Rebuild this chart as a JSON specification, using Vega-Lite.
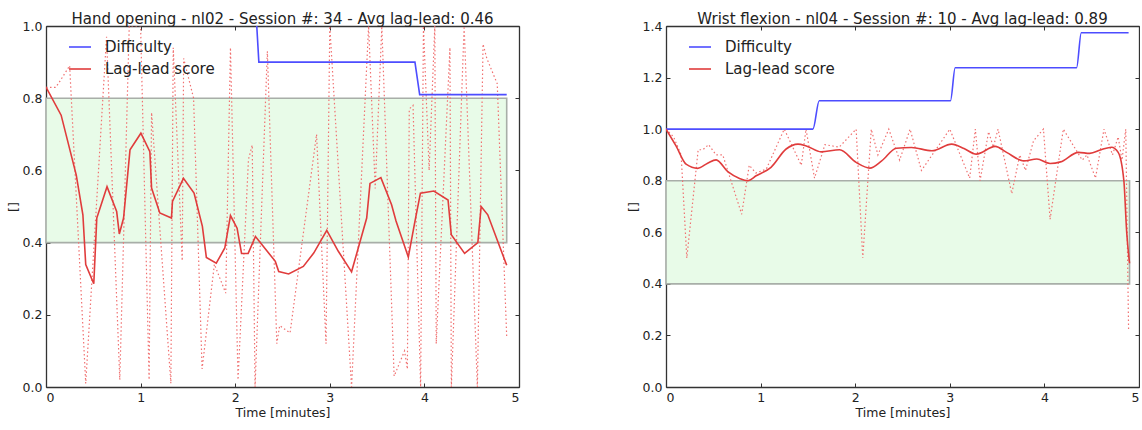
{
"$schema": "https://vega.github.io/schema/vega-lite/v6.json",
"background": "white",
"padding": {"left": 7, "right": 0, "top": 12, "bottom": 0},
"spacing": 107,
"config": {
  "font": "DejaVu Sans",
  "view": {"stroke": null},
  "title": {"fontSize": 15, "fontWeight": "normal", "color": "#222", "offset": -7},
  "axis": {"labelFontSize": 12.5, "titleFontSize": 12.5, "titleFontWeight": "normal", "labelColor": "#222", "titleColor": "#222", "grid": false, "domainColor": "#333", "domainWidth": 1.3, "tickColor": "#333", "tickSize": -4, "labelPadding": 8, "titlePadding": 4},
  "legend": {"title": null, "orient": "none", "legendX": 22, "legendY": 9, "symbolType": "stroke", "symbolStrokeWidth": 1.6, "symbolSize": 484, "labelFontSize": 15, "labelOffset": 13, "rowPadding": 2, "labelColor": "#222"}
},
"datasets": {
  "bandL": [{"t0": 0, "t1": 4.87, "lo": 0.4, "hi": 0.8}],
  "bandR": [{"t0": 0, "t1": 4.90, "lo": 0.4, "hi": 0.8}],
  "rawL": [
    {"t":0.00,"v":0.83},{"t":0.10,"v":0.83},{"t":0.13,"v":0.84},{"t":0.25,"v":0.89},{"t":0.42,"v":0.01},{"t":0.64,"v":0.97},{"t":0.78,"v":0.02},{"t":0.88,"v":1.0},{"t":1.0,"v":1.0},{"t":1.09,"v":0.02},{"t":1.116,"v":0.76},{"t":1.32,"v":0.01},{"t":1.345,"v":0.94},{"t":1.44,"v":0.35},{"t":1.455,"v":0.91},{"t":1.56,"v":0.80},{"t":1.65,"v":0.05},{"t":1.78,"v":0.34},{"t":1.90,"v":0.26},{"t":1.95,"v":0.94},{"t":2.03,"v":0.02},{"t":2.14,"v":0.63},{"t":2.18,"v":0.67},{"t":2.21,"v":0.0},{"t":2.34,"v":0.93},{"t":2.44,"v":0.12},{"t":2.47,"v":0.17},{"t":2.58,"v":0.15},{"t":2.86,"v":0.70},{"t":2.96,"v":0.12},{"t":3.00,"v":1.0},{"t":3.23,"v":0.0},{"t":3.41,"v":1.0},{"t":3.48,"v":0.55},{"t":3.55,"v":1.0},{"t":3.68,"v":0.03},{"t":3.79,"v":0.10},{"t":3.82,"v":0.05},{"t":3.84,"v":0.77},{"t":3.88,"v":0.78},{"t":3.96,"v":0.0},{"t":3.99,"v":1.0},{"t":4.05,"v":0.6},{"t":4.11,"v":1.0},{"t":4.125,"v":0.12},{"t":4.27,"v":0.94},{"t":4.285,"v":0.0},{"t":4.42,"v":1.0},{"t":4.56,"v":0.0},{"t":4.62,"v":0.95},{"t":4.66,"v":0.91},{"t":4.77,"v":0.84},{"t":4.87,"v":0.14}
  ],
  "linesL": [
    {"s":"Difficulty","t":0,"v":1.05},{"s":"Difficulty","t":2.217,"v":1.05},{"s":"Difficulty","t":2.25,"v":0.90},{"s":"Difficulty","t":3.90,"v":0.90},{"s":"Difficulty","t":3.95,"v":0.81},{"s":"Difficulty","t":4.87,"v":0.81},
    {"s":"Lag-lead score","t":0.0,"v":0.831},{"s":"Lag-lead score","t":0.16,"v":0.753},{"s":"Lag-lead score","t":0.32,"v":0.587},{"s":"Lag-lead score","t":0.39,"v":0.477},{"s":"Lag-lead score","t":0.42,"v":0.339},{"s":"Lag-lead score","t":0.505,"v":0.286},{"s":"Lag-lead score","t":0.537,"v":0.468},{"s":"Lag-lead score","t":0.645,"v":0.555},{"s":"Lag-lead score","t":0.747,"v":0.486},{"s":"Lag-lead score","t":0.775,"v":0.424},{"s":"Lag-lead score","t":0.82,"v":0.468},{"s":"Lag-lead score","t":0.888,"v":0.657},{"s":"Lag-lead score","t":1.003,"v":0.703},{"s":"Lag-lead score","t":1.098,"v":0.652},{"s":"Lag-lead score","t":1.116,"v":0.551},{"s":"Lag-lead score","t":1.203,"v":0.482},{"s":"Lag-lead score","t":1.326,"v":0.468},{"s":"Lag-lead score","t":1.337,"v":0.514},{"s":"Lag-lead score","t":1.453,"v":0.578},{"s":"Lag-lead score","t":1.565,"v":0.537},{"s":"Lag-lead score","t":1.653,"v":0.445},{"s":"Lag-lead score","t":1.695,"v":0.359},{"s":"Lag-lead score","t":1.80,"v":0.343},{"s":"Lag-lead score","t":1.89,"v":0.385},{"s":"Lag-lead score","t":1.95,"v":0.475},{"s":"Lag-lead score","t":2.02,"v":0.44},{"s":"Lag-lead score","t":2.067,"v":0.37},{"s":"Lag-lead score","t":2.137,"v":0.37},{"s":"Lag-lead score","t":2.214,"v":0.417},{"s":"Lag-lead score","t":2.424,"v":0.348},{"s":"Lag-lead score","t":2.46,"v":0.32},{"s":"Lag-lead score","t":2.565,"v":0.313},{"s":"Lag-lead score","t":2.72,"v":0.334},{"s":"Lag-lead score","t":2.83,"v":0.371},{"s":"Lag-lead score","t":2.968,"v":0.434},{"s":"Lag-lead score","t":3.09,"v":0.376},{"s":"Lag-lead score","t":3.23,"v":0.319},{"s":"Lag-lead score","t":3.39,"v":0.468},{"s":"Lag-lead score","t":3.425,"v":0.564},{"s":"Lag-lead score","t":3.54,"v":0.58},{"s":"Lag-lead score","t":3.653,"v":0.505},{"s":"Lag-lead score","t":3.70,"v":0.46},{"s":"Lag-lead score","t":3.83,"v":0.36},{"s":"Lag-lead score","t":3.90,"v":0.459},{"s":"Lag-lead score","t":3.958,"v":0.537},{"s":"Lag-lead score","t":4.10,"v":0.543},{"s":"Lag-lead score","t":4.25,"v":0.518},{"s":"Lag-lead score","t":4.284,"v":0.422},{"s":"Lag-lead score","t":4.425,"v":0.37},{"s":"Lag-lead score","t":4.565,"v":0.40},{"s":"Lag-lead score","t":4.60,"v":0.50},{"s":"Lag-lead score","t":4.67,"v":0.477},{"s":"Lag-lead score","t":4.87,"v":0.337}
  ],
  "rawR": [
    {"t":0.00,"v":1.0},{"t":0.08,"v":0.97},{"t":0.16,"v":0.90},{"t":0.22,"v":0.50},{"t":0.34,"v":0.92},{"t":0.39,"v":0.92},{"t":0.45,"v":0.94},{"t":0.53,"v":0.90},{"t":0.60,"v":0.90},{"t":0.80,"v":0.67},{"t":0.88,"v":0.86},{"t":0.95,"v":0.83},{"t":1.06,"v":0.845},{"t":1.25,"v":1.0},{"t":1.43,"v":0.86},{"t":1.48,"v":1.0},{"t":1.57,"v":0.81},{"t":1.68,"v":0.94},{"t":1.83,"v":0.93},{"t":2.01,"v":1.0},{"t":2.08,"v":0.50},{"t":2.17,"v":1.0},{"t":2.24,"v":0.90},{"t":2.355,"v":1.0},{"t":2.47,"v":0.88},{"t":2.58,"v":1.0},{"t":2.70,"v":0.84},{"t":2.88,"v":0.935},{"t":3.00,"v":1.0},{"t":3.21,"v":0.81},{"t":3.27,"v":1.0},{"t":3.32,"v":0.80},{"t":3.41,"v":0.99},{"t":3.46,"v":0.93},{"t":3.51,"v":1.0},{"t":3.655,"v":0.75},{"t":3.74,"v":0.90},{"t":3.80,"v":0.84},{"t":3.885,"v":0.955},{"t":3.99,"v":1.0},{"t":4.06,"v":0.65},{"t":4.20,"v":1.0},{"t":4.40,"v":0.88},{"t":4.45,"v":0.90},{"t":4.54,"v":0.81},{"t":4.63,"v":1.0},{"t":4.72,"v":0.90},{"t":4.78,"v":0.97},{"t":4.82,"v":0.88},{"t":4.86,"v":1.0},{"t":4.89,"v":0.22}
  ],
  "linesR": [
    {"s":"Difficulty","t":0,"v":1.0},{"s":"Difficulty","t":1.553,"v":1.0},{"s":"Difficulty","t":1.62,"v":1.11},{"s":"Difficulty","t":3.007,"v":1.11},{"s":"Difficulty","t":3.057,"v":1.238},{"s":"Difficulty","t":4.34,"v":1.238},{"s":"Difficulty","t":4.39,"v":1.374},{"s":"Difficulty","t":4.89,"v":1.374},
    {"s":"Lag-lead score","t":0.0,"v":1.0},{"s":"Lag-lead score","t":0.106,"v":0.935},{"s":"Lag-lead score","t":0.212,"v":0.864},{"s":"Lag-lead score","t":0.336,"v":0.848},{"s":"Lag-lead score","t":0.44,"v":0.868},{"s":"Lag-lead score","t":0.53,"v":0.881},{"s":"Lag-lead score","t":0.653,"v":0.835},{"s":"Lag-lead score","t":0.777,"v":0.809},{"s":"Lag-lead score","t":0.865,"v":0.80},{"s":"Lag-lead score","t":0.953,"v":0.819},{"s":"Lag-lead score","t":1.11,"v":0.852},{"s":"Lag-lead score","t":1.27,"v":0.923},{"s":"Lag-lead score","t":1.395,"v":0.942},{"s":"Lag-lead score","t":1.483,"v":0.935},{"s":"Lag-lead score","t":1.64,"v":0.912},{"s":"Lag-lead score","t":1.836,"v":0.92},{"s":"Lag-lead score","t":2.01,"v":0.871},{"s":"Lag-lead score","t":2.155,"v":0.849},{"s":"Lag-lead score","t":2.28,"v":0.877},{"s":"Lag-lead score","t":2.436,"v":0.926},{"s":"Lag-lead score","t":2.595,"v":0.929},{"s":"Lag-lead score","t":2.81,"v":0.916},{"s":"Lag-lead score","t":3.02,"v":0.942},{"s":"Lag-lead score","t":3.15,"v":0.925},{"s":"Lag-lead score","t":3.28,"v":0.903},{"s":"Lag-lead score","t":3.48,"v":0.933},{"s":"Lag-lead score","t":3.60,"v":0.91},{"s":"Lag-lead score","t":3.78,"v":0.877},{"s":"Lag-lead score","t":3.92,"v":0.884},{"s":"Lag-lead score","t":4.06,"v":0.867},{"s":"Lag-lead score","t":4.17,"v":0.873},{"s":"Lag-lead score","t":4.36,"v":0.91},{"s":"Lag-lead score","t":4.48,"v":0.906},{"s":"Lag-lead score","t":4.60,"v":0.92},{"s":"Lag-lead score","t":4.71,"v":0.93},{"s":"Lag-lead score","t":4.78,"v":0.91},{"s":"Lag-lead score","t":4.84,"v":0.80},{"s":"Lag-lead score","t":4.87,"v":0.60},{"s":"Lag-lead score","t":4.90,"v":0.48}
  ]
},
"resolve": {"legend": {"color": "independent"}},
"hconcat": [
  {
    "width": 473, "height": 361,
    "title": "Hand opening - nl02 - Session #: 34 - Avg lag-lead: 0.46",
    "layer": [
      {"data": {"name": "bandL"}, "mark": {"type": "rect", "fill": "#e8fbe8", "stroke": "#a8aea8", "strokeWidth": 1.6},
       "encoding": {
         "x": {"field": "t0", "type": "quantitative", "scale": {"domain": [0, 5], "nice": false}, "axis": {"orient": "bottom", "values": [0,1,2,3,4,5], "format": "d", "title": "Time [minutes]", "titlePadding": 3}},
         "x2": {"field": "t1"},
         "y": {"field": "lo", "type": "quantitative", "scale": {"domain": [0, 1], "nice": false}, "axis": {"orient": "left", "values": [0,0.2,0.4,0.6,0.8,1.0], "format": ".1f", "title": "[]", "titleX": -26, "titleY": 180.5}},
         "y2": {"field": "hi"}}},
      {"data": {"name": "rawL"}, "mark": {"type": "line", "color": "#f07070", "strokeDash": [1.5, 2.5], "strokeWidth": 1.2, "clip": true},
       "encoding": {
         "x": {"field": "t", "type": "quantitative", "axis": {"orient": "top", "labels": false, "title": null, "values": [0,1,2,3,4,5]}},
         "y": {"field": "v", "type": "quantitative", "axis": {"orient": "right", "labels": false, "title": null, "values": [0,0.2,0.4,0.6,0.8,1.0]}}}},
      {"data": {"name": "linesL"}, "mark": {"type": "line", "clip": true, "strokeWidth": 1.6},
       "encoding": {
         "x": {"field": "t", "type": "quantitative", "axis": null},
         "y": {"field": "v", "type": "quantitative", "axis": null},
         "color": {"field": "s", "type": "nominal", "scale": {"domain": ["Difficulty", "Lag-lead score"], "range": ["#4d4dff", "#e03c3c"]}, "legend": {}}}}
    ],
    "resolve": {"axis": {"x": "independent", "y": "independent"}}
  },
  {
    "width": 473, "height": 361,
    "title": "Wrist flexion - nl04 - Session #: 10 - Avg lag-lead: 0.89",
    "layer": [
      {"data": {"name": "bandR"}, "mark": {"type": "rect", "fill": "#e8fbe8", "stroke": "#a8aea8", "strokeWidth": 1.6},
       "encoding": {
         "x": {"field": "t0", "type": "quantitative", "scale": {"domain": [0, 5], "nice": false}, "axis": {"orient": "bottom", "values": [0,1,2,3,4,5], "format": "d", "title": "Time [minutes]", "titlePadding": 3}},
         "x2": {"field": "t1"},
         "y": {"field": "lo", "type": "quantitative", "scale": {"domain": [0, 1.4], "nice": false}, "axis": {"orient": "left", "values": [0,0.2,0.4,0.6,0.8,1.0,1.2,1.4], "format": ".1f", "title": "[]", "titleX": -26, "titleY": 180.5}},
         "y2": {"field": "hi"}}},
      {"data": {"name": "rawR"}, "mark": {"type": "line", "color": "#f07070", "strokeDash": [1.5, 2.5], "strokeWidth": 1.2, "clip": true},
       "encoding": {
         "x": {"field": "t", "type": "quantitative", "axis": {"orient": "top", "labels": false, "title": null, "values": [0,1,2,3,4,5]}},
         "y": {"field": "v", "type": "quantitative", "axis": {"orient": "right", "labels": false, "title": null, "values": [0,0.2,0.4,0.6,0.8,1.0,1.2,1.4]}}}},
      {"data": {"name": "linesR"}, "mark": {"type": "line", "clip": true, "strokeWidth": 1.6, "interpolate": "monotone"},
       "encoding": {
         "x": {"field": "t", "type": "quantitative", "axis": null},
         "y": {"field": "v", "type": "quantitative", "axis": null},
         "color": {"field": "s", "type": "nominal", "scale": {"domain": ["Difficulty", "Lag-lead score"], "range": ["#4d4dff", "#e03c3c"]}, "legend": {}}}}
    ],
    "resolve": {"axis": {"x": "independent", "y": "independent"}}
  }
]
}
